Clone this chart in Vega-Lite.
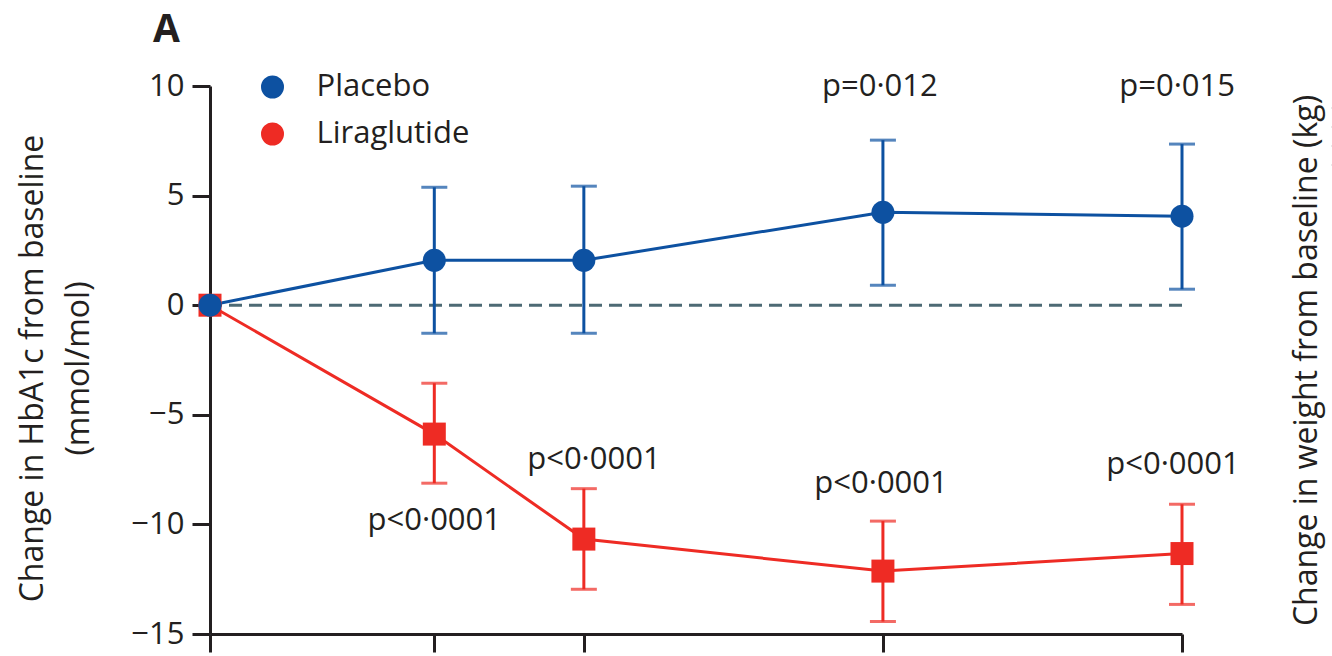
{
  "$schema": "https://vega.github.io/schema/vega-lite/v6.json",
  "width": 972,
  "height": 548,
  "autosize": "none",
  "padding": {"left": 210, "top": 86, "right": 150, "bottom": 22},
  "background": "white",
  "config": {"view": {"stroke": null}, "font": "Open Sans"},
  "title": {"text": "A", "anchor": "start", "frame": "group", "dx": -57, "offset": -11, "baseline": "alphabetic", "fontSize": 39, "fontWeight": "bold", "font": "Open Sans", "color": "#231f20"},
  "datasets": {
    "means": [
      {"series": "Liraglutide", "week": 0, "mean": 0, "lo": null, "hi": null},
      {"series": "Liraglutide", "week": 6, "mean": -5.88, "lo": -8.12, "hi": -3.56},
      {"series": "Liraglutide", "week": 10, "mean": -10.67, "lo": -12.96, "hi": -8.37},
      {"series": "Liraglutide", "week": 18, "mean": -12.13, "lo": -14.43, "hi": -9.85},
      {"series": "Liraglutide", "week": 26, "mean": -11.33, "lo": -13.65, "hi": -9.08},
      {"series": "Placebo", "week": 0, "mean": 0, "lo": null, "hi": null},
      {"series": "Placebo", "week": 6, "mean": 2.05, "lo": -1.28, "hi": 5.38},
      {"series": "Placebo", "week": 10, "mean": 2.05, "lo": -1.28, "hi": 5.43},
      {"series": "Placebo", "week": 18, "mean": 4.24, "lo": 0.91, "hi": 7.53},
      {"series": "Placebo", "week": 26, "mean": 4.06, "lo": 0.73, "hi": 7.35}
    ],
    "pvals": [
      {"week": 17.92, "y": 9.95, "label": "p=0·012"},
      {"week": 25.87, "y": 9.95, "label": "p=0·015"},
      {"week": 6, "y": -9.85, "label": "p<0·0001"},
      {"week": 10.27, "y": -7.07, "label": "p<0·0001"},
      {"week": 17.95, "y": -8.17, "label": "p<0·0001"},
      {"week": 25.76, "y": -7.3, "label": "p<0·0001"}
    ]
  },
  "resolve": {"axis": {"y": "independent"}},
  "layer": [
    {
      "data": {"name": "means"},
      "transform": [{"filter": "false"}],
      "mark": {"type": "point", "filled": false, "strokeWidth": 3, "opacity": 1},
      "encoding": {
        "x": {"field": "week", "type": "quantitative", "scale": {"domain": [0, 26], "nice": false, "zero": false},
              "axis": {"values": [0, 6, 10, 18, 26], "labels": false, "title": null, "grid": false, "tickSize": 18, "tickWidth": 3, "domainWidth": 3, "tickColor": "#231f20", "domainColor": "#231f20"}},
        "y": {"field": "mean", "type": "quantitative", "scale": {"domain": [-15, 10], "nice": false, "zero": false}, "axis": null},
        "shape": {"field": "series", "type": "nominal", "scale": {"domain": ["Placebo", "Liraglutide"],
                  "range": ["M-2.85,0H2.85M-1.1,0A1.1,1.1 0 1,0 1.1,0A1.1,1.1 0 1,0 -1.1,0Z", "M-2.85,0H2.85M-0.975,-0.975H0.975V0.975H-0.975Z"]}},
        "color": {"field": "series", "type": "nominal", "scale": {"domain": ["Placebo", "Liraglutide"], "range": ["#0d51a1", "#ee2b24"]},
                  "legend": {"orient": "none", "legendX": 47, "legendY": -14.5, "title": null, "direction": "vertical", "padding": 0,
                             "symbolSize": 400, "symbolStrokeWidth": 3, "symbolFillColor": "transparent", "labelFontSize": 31, "labelFont": "Open Sans", "labelColor": "#231f20",
                             "labelOffset": 28.5, "rowPadding": 14, "labelLimit": 400}}
      }
    },
    {
      "data": {"name": "means"},
      "transform": [{"filter": "false"}],
      "mark": {"type": "point", "filled": true, "opacity": 1},
      "encoding": {
        "x": {"field": "week", "type": "quantitative", "scale": {"domain": [0, 26], "nice": false, "zero": false},
              "axis": {"values": [0, 6, 10, 18, 26], "labels": false, "title": null, "grid": false, "tickSize": 18, "tickWidth": 3, "domainWidth": 3, "tickColor": "#231f20", "domainColor": "#231f20"}},
        "y": {"field": "mean", "type": "quantitative", "scale": {"domain": [-15, 10], "nice": false, "zero": false}, "axis": null},
        "shape": {"field": "series", "type": "nominal", "scale": {"domain": ["Placebo_", "Liraglutide_"],
                  "range": ["M-1.1,0A1.1,1.1 0 1,0 1.1,0A1.1,1.1 0 1,0 -1.1,0Z", "M-0.975,-0.975H0.975V0.975H-0.975Z"]}},
        "fill": {"field": "series", "type": "nominal", "scale": {"domain": ["Placebo_", "Liraglutide_"], "range": ["#0d51a1", "#ee2b24"]},
                 "legend": {"orient": "none", "legendX": 47, "legendY": -14.5, "title": null, "direction": "vertical", "padding": 0,
                            "symbolSize": 400, "labelFontSize": 31, "labelFont": "Open Sans", "labelColor": "#231f20", "labelOpacity": 0,
                            "labelOffset": 28.5, "rowPadding": 14, "labelLimit": 400}}
      }
    },
    {
      "data": {"values": [{"zero": 0}]},
      "mark": {"type": "rule", "strokeDash": [13, 7], "strokeWidth": 3, "color": "#4d6a74"},
      "encoding": {
        "y": {"field": "zero", "type": "quantitative", "scale": {"domain": [-15, 10], "nice": false, "zero": false}, "axis": null}
      }
    },
    {
      "data": {"name": "means"},
      "transform": [{"filter": "datum.series === 'Liraglutide'"}],
      "mark": {"type": "line", "strokeWidth": 3, "color": "#ee2b24"},
      "encoding": {
        "x": {"field": "week", "type": "quantitative", "scale": {"domain": [0, 26], "nice": false, "zero": false},
              "axis": {"values": [0, 6, 10, 18, 26], "labels": false, "title": null, "grid": false, "tickSize": 18, "tickWidth": 3, "domainWidth": 3, "tickColor": "#231f20", "domainColor": "#231f20"}},
        "y": {"field": "mean", "type": "quantitative", "scale": {"domain": [-15, 10], "nice": false, "zero": false},
              "axis": {"orient": "left", "values": [-15, -10, -5, 0, 5, 10], "grid": false, "tickSize": 18, "tickWidth": 3, "domainWidth": 3, "tickColor": "#231f20", "domainColor": "#231f20",
                       "labelFontSize": 31, "labelFont": "Open Sans", "labelColor": "#231f20", "labelPadding": 8,
                       "title": ["Change in HbA1c from baseline", "(mmol/mol)"], "titleFont": "Open Sans", "titleFontSize": 32, "titleFontWeight": "normal", "titleColor": "#231f20",
                       "titleAngle": 270, "titleX": -178, "titleY": 282, "titleAlign": "center", "titleBaseline": "middle", "titleLineHeight": 46}},
        "order": {"field": "week", "type": "quantitative"}
      }
    },
    {
      "data": {"name": "means"},
      "transform": [{"filter": "datum.series === 'Placebo'"}],
      "mark": {"type": "line", "strokeWidth": 3, "color": "#0d51a1"},
      "encoding": {
        "x": {"field": "week", "type": "quantitative", "scale": {"domain": [0, 26], "nice": false, "zero": false},
              "axis": {"values": [0, 6, 10, 18, 26], "labels": false, "title": null, "grid": false, "tickSize": 18, "tickWidth": 3, "domainWidth": 3, "tickColor": "#231f20", "domainColor": "#231f20"}},
        "y": {"field": "mean", "type": "quantitative", "scale": {"domain": [-15, 10], "nice": false, "zero": false}, "axis": null},
        "order": {"field": "week", "type": "quantitative"}
      }
    },
    {
      "data": {"name": "means"},
      "transform": [{"filter": "datum.lo != null"}],
      "mark": {"type": "rule", "strokeWidth": 3},
      "encoding": {
        "x": {"field": "week", "type": "quantitative", "scale": {"domain": [0, 26], "nice": false, "zero": false},
              "axis": {"values": [0, 6, 10, 18, 26], "labels": false, "title": null, "grid": false, "tickSize": 18, "tickWidth": 3, "domainWidth": 3, "tickColor": "#231f20", "domainColor": "#231f20"}},
        "y": {"field": "lo", "type": "quantitative", "scale": {"domain": [-15, 10], "nice": false, "zero": false}, "axis": null},
        "y2": {"field": "hi"},
        "stroke": {"field": "series", "type": "nominal", "scale": {"domain": ["Liraglutide", "Placebo"], "range": ["#ee2b24", "#0d51a1"]}, "legend": null}
      }
    },
    {
      "data": {"name": "means"},
      "transform": [{"filter": "datum.lo != null"}],
      "mark": {"type": "tick", "orient": "horizontal", "size": 26, "thickness": 3},
      "encoding": {
        "x": {"field": "week", "type": "quantitative", "scale": {"domain": [0, 26], "nice": false, "zero": false},
              "axis": {"values": [0, 6, 10, 18, 26], "labels": false, "title": null, "grid": false, "tickSize": 18, "tickWidth": 3, "domainWidth": 3, "tickColor": "#231f20", "domainColor": "#231f20"}},
        "y": {"field": "lo", "type": "quantitative", "scale": {"domain": [-15, 10], "nice": false, "zero": false}, "axis": null},
        "color": {"field": "series", "type": "nominal", "scale": {"domain": ["Liraglutide", "Placebo"], "range": ["#ee2b24", "#0d51a1"]}, "legend": null}
      }
    },
    {
      "data": {"name": "means"},
      "transform": [{"filter": "datum.hi != null"}],
      "mark": {"type": "tick", "orient": "horizontal", "size": 26, "thickness": 3},
      "encoding": {
        "x": {"field": "week", "type": "quantitative", "scale": {"domain": [0, 26], "nice": false, "zero": false},
              "axis": {"values": [0, 6, 10, 18, 26], "labels": false, "title": null, "grid": false, "tickSize": 18, "tickWidth": 3, "domainWidth": 3, "tickColor": "#231f20", "domainColor": "#231f20"}},
        "y": {"field": "hi", "type": "quantitative", "scale": {"domain": [-15, 10], "nice": false, "zero": false}, "axis": null},
        "color": {"field": "series", "type": "nominal", "scale": {"domain": ["Liraglutide", "Placebo"], "range": ["#ee2b24", "#0d51a1"]}, "legend": null}
      }
    },
    {
      "data": {"name": "means"},
      "transform": [{"filter": "datum.series === 'Liraglutide'"}],
      "mark": {"type": "point", "filled": true, "shape": "square", "size": 529, "opacity": 1, "color": "#ee2b24"},
      "encoding": {
        "x": {"field": "week", "type": "quantitative", "scale": {"domain": [0, 26], "nice": false, "zero": false},
              "axis": {"values": [0, 6, 10, 18, 26], "labels": false, "title": null, "grid": false, "tickSize": 18, "tickWidth": 3, "domainWidth": 3, "tickColor": "#231f20", "domainColor": "#231f20"}},
        "y": {"field": "mean", "type": "quantitative", "scale": {"domain": [-15, 10], "nice": false, "zero": false}, "axis": null}
      }
    },
    {
      "data": {"name": "means"},
      "transform": [{"filter": "datum.series === 'Placebo'"}],
      "mark": {"type": "point", "filled": true, "shape": "circle", "size": 529, "opacity": 1, "color": "#0d51a1"},
      "encoding": {
        "x": {"field": "week", "type": "quantitative", "scale": {"domain": [0, 26], "nice": false, "zero": false},
              "axis": {"values": [0, 6, 10, 18, 26], "labels": false, "title": null, "grid": false, "tickSize": 18, "tickWidth": 3, "domainWidth": 3, "tickColor": "#231f20", "domainColor": "#231f20"}},
        "y": {"field": "mean", "type": "quantitative", "scale": {"domain": [-15, 10], "nice": false, "zero": false}, "axis": null}
      }
    },
    {
      "data": {"name": "pvals"},
      "mark": {"type": "text", "fontSize": 31, "font": "Open Sans", "color": "#231f20", "align": "center", "baseline": "middle"},
      "encoding": {
        "x": {"field": "week", "type": "quantitative", "scale": {"domain": [0, 26], "nice": false, "zero": false},
              "axis": {"values": [0, 6, 10, 18, 26], "labels": false, "title": null, "grid": false, "tickSize": 18, "tickWidth": 3, "domainWidth": 3, "tickColor": "#231f20", "domainColor": "#231f20"}},
        "y": {"field": "y", "type": "quantitative", "scale": {"domain": [-15, 10], "nice": false, "zero": false},
              "axis": {"orient": "right", "labels": false, "ticks": false, "domain": false, "grid": false,
                       "title": "Change in weight from baseline (kg)", "titleFont": "Open Sans", "titleFontSize": 32, "titleFontWeight": "normal", "titleColor": "#231f20",
                       "titleAngle": 270, "titleX": 124, "titleY": 274, "titleAlign": "center", "titleBaseline": "middle"}},
        "text": {"field": "label", "type": "nominal"}
      }
    }
  ]
}
